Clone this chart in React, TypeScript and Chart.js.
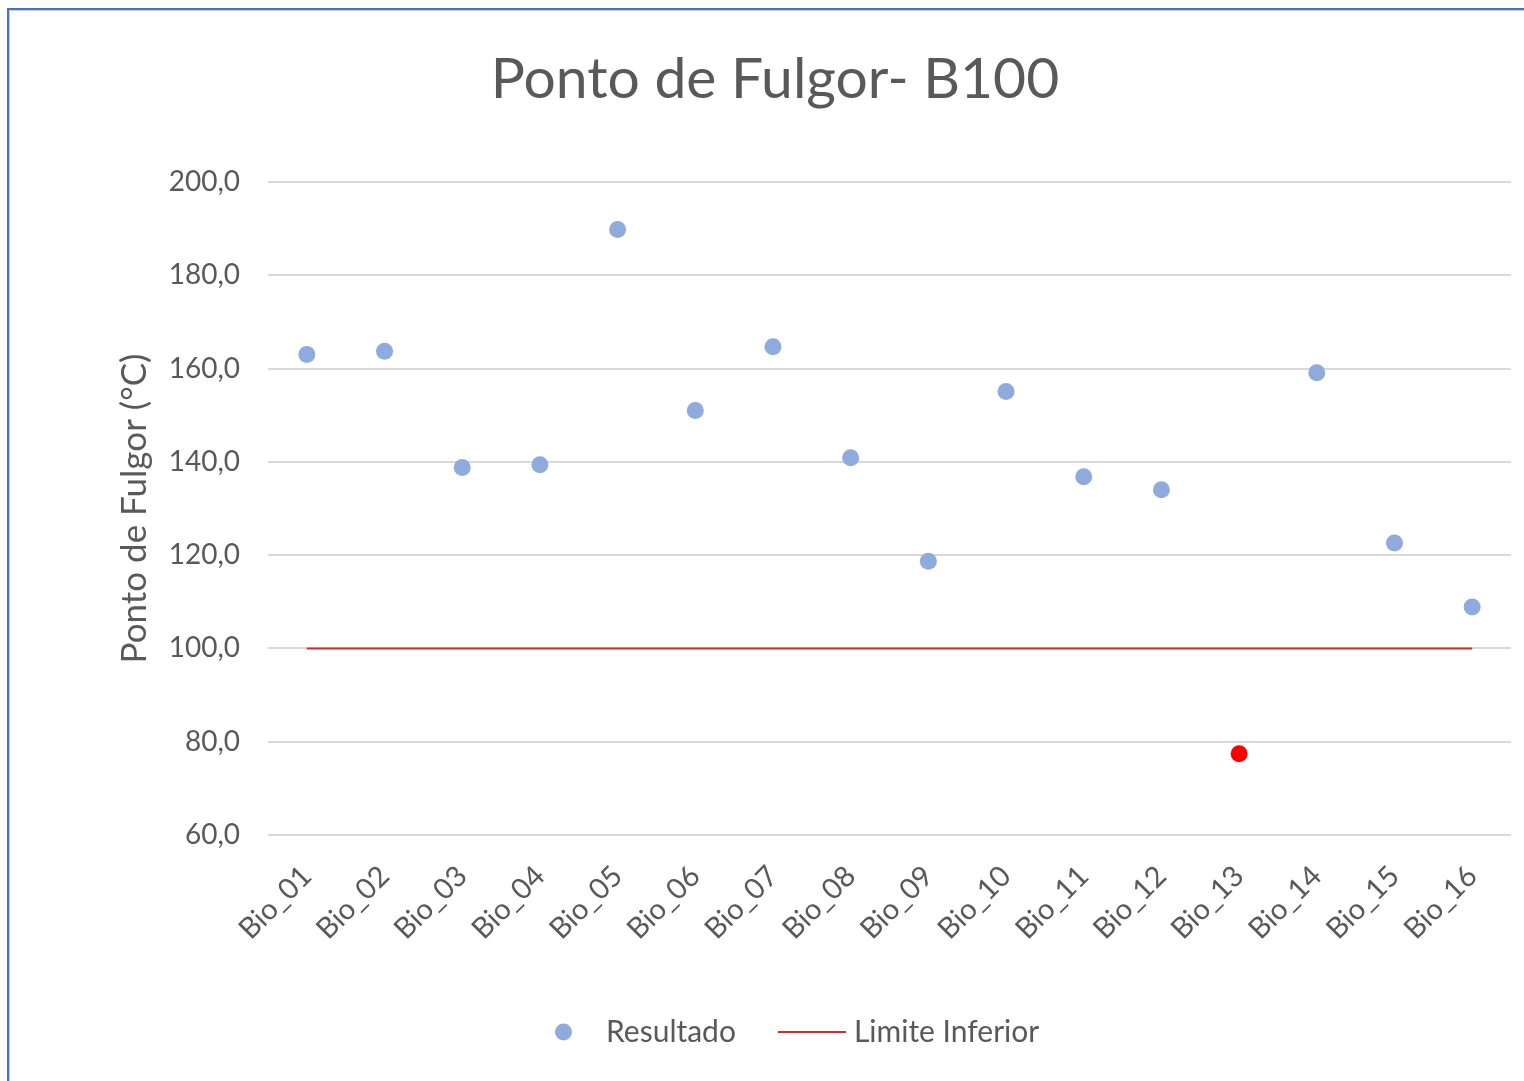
import React, { useEffect, useRef } from "react";
import { Chart, registerables } from "chart.js";

Chart.register(...registerables);

const categories = [
  "Bio_01", "Bio_02", "Bio_03", "Bio_04", "Bio_05", "Bio_06", "Bio_07", "Bio_08",
  "Bio_09", "Bio_10", "Bio_11", "Bio_12", "Bio_13", "Bio_14", "Bio_15", "Bio_16",
];
const resultado = [163, 163.7, 138.8, 139.4, 189.8, 151, 164.7, 140.9, 118.7, 155.1, 136.8, 134, 77.4, 159.1, 122.6, 108.9];
const limiteInferior = [100, 100, 100, 100, 100, 100, 100, 100, 100, 100, 100, 100, 100, 100, 100, 100];
const yTicks = [60, 80, 100, 120, 140, 160, 180, 200];

const FONT = "Lato";
const TEXT = "#595959";
const BLUE = "#8FAADC";
const RED_POINT = "#FF0000";
const RED_LINE = "#D42A2A";

const legendPlugin = {
  id: "customLegend",
  afterDraw(chart: any) {
    const ctx = chart.ctx;
    const y = 1032;
    let x = 555;
    ctx.save();
    ctx.font = `30px ${FONT}`;
    ctx.fillStyle = TEXT;
    ctx.textBaseline = "middle";
    // item 1: point
    ctx.beginPath();
    ctx.fillStyle = BLUE;
    ctx.arc(x + 8.5, y, 8.5, 0, Math.PI * 2);
    ctx.fill();
    ctx.fillStyle = TEXT;
    ctx.fillText(chart.data.datasets[0].label, x + 51, y);
    x = x + 51 + ctx.measureText(chart.data.datasets[0].label).width + 42;
    // item 2: line
    ctx.beginPath();
    ctx.strokeStyle = RED_LINE;
    ctx.lineWidth = 2;
    ctx.moveTo(x, y);
    ctx.lineTo(x + 68, y);
    ctx.stroke();
    ctx.fillText(chart.data.datasets[1].label, x + 76, y);
    ctx.restore();
  },
};

export default function App() {
  const ref = useRef<HTMLCanvasElement>(null);
  useEffect(() => {
    if (!ref.current) return;
    const chart = new Chart(ref.current, {
      type: "line",
      data: {
        labels: categories,
        datasets: [
          {
            label: "Resultado",
            data: resultado,
            showLine: false,
            pointRadius: 8.5,
            pointHoverRadius: 8.5,
            pointBorderWidth: 0,
            pointBackgroundColor: resultado.map((v, i) => (v < limiteInferior[i] ? RED_POINT : BLUE)),
            pointBorderColor: resultado.map((v, i) => (v < limiteInferior[i] ? RED_POINT : BLUE)),
            borderColor: BLUE,
            backgroundColor: BLUE,
            order: 0,
          },
          {
            label: "Limite Inferior",
            data: limiteInferior,
            borderColor: RED_LINE,
            borderWidth: 2,
            pointRadius: 0,
            fill: false,
            order: 1,
          },
        ],
      },
      options: {
        responsive: false,
        animation: false,
        events: [],
        layout: { padding: { left: 39, right: 13, top: 0, bottom: 0 } },
        plugins: {
          legend: { display: false },
          tooltip: { enabled: false },
          title: {
            display: true,
            text: "Ponto de Fulgor- B100",
            color: TEXT,
            font: { family: FONT, size: 57, weight: "normal" },
            padding: { top: 45.8, bottom: 67.8 },
          },
        },
        scales: {
          x: {
            type: "category",
            offset: true,
            grid: { display: false },
            border: { display: false },
            ticks: {
              color: TEXT,
              font: { family: FONT, size: 29 },
              minRotation: 45,
              maxRotation: 45,
              padding: 16,
              autoSkip: false,
            },
            afterFit: (s: any) => {
              s.height = 1081 - 835;
            },
          },
          y: {
            min: 60,
            max: 200,
            afterBuildTicks: (s: any) => {
              s.ticks = yTicks.map((v) => ({ value: v }));
            },
            grid: { color: "#D9D9D9", lineWidth: 2, drawTicks: false },
            border: { display: false },
            ticks: {
              color: TEXT,
              font: { family: FONT, size: 28 },
              padding: 28,
              callback: (v: any) => Number(v).toFixed(1).replace(".", ","),
            },
            title: {
              display: true,
              text: "Ponto de Fulgor (°C)",
              color: TEXT,
              font: { family: FONT, size: 35 },
              padding: { top: 75, bottom: 0 },
            },
            afterFit: (s: any) => {
              s.width = 268 - 39;
            },
          },
        },
      },
      plugins: [legendPlugin],
    });
    return () => chart.destroy();
  }, []);

  return (
    <div style={{ position: "absolute", left: 0, top: 0, width: 1524, height: 1081, overflow: "hidden", background: "#fff" }}>
      <div
        style={{
          position: "absolute",
          left: 7,
          top: 8,
          width: 1700,
          height: 1300,
          borderLeft: "2px solid #4472C4",
          borderTop: "2px solid #4472C4",
          boxShadow: "inset 1px 1px 0 #D0D0D0",
        }}
      />
      <canvas ref={ref} width={1524} height={1081} style={{ position: "absolute", left: 0, top: 0 }} />
    </div>
  );
}
